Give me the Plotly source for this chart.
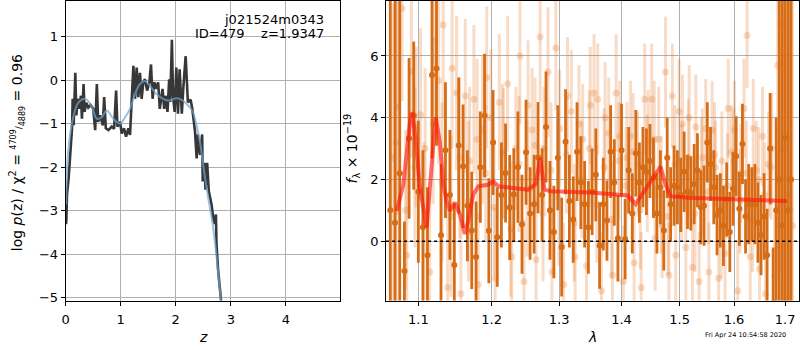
import plotly.graph_objects as go
import math

# ---------------- left panel: log p(z) ----------------
pz_z = [0.005, 0.012, 0.024, 0.054, 0.115, 0.127, 0.145, 0.175, 0.193, 0.217, 0.247, 0.277, 0.295,
        0.325, 0.343, 0.373, 0.41, 0.45, 0.5, 0.536, 0.566, 0.59, 0.627, 0.675, 0.699, 0.729,
        0.777, 0.837, 0.88, 0.916, 0.94, 0.988, 1.018, 1.06, 1.097, 1.139, 1.169, 1.2, 1.23,
        1.26, 1.29, 1.32, 1.35, 1.38, 1.41, 1.44, 1.48, 1.52, 1.55, 1.58, 1.61, 1.65, 1.68,
        1.71, 1.76, 1.79, 1.82, 1.85, 1.88, 1.9, 1.93, 1.95, 1.98, 2.01, 2.04, 2.07, 2.11,
        2.14, 2.18, 2.22, 2.27, 2.30, 2.35, 2.38, 2.40, 2.44, 2.48, 2.49, 2.52, 2.54, 2.57,
        2.60, 2.65, 2.68, 2.71, 2.73, 2.74, 2.77, 2.81, 2.84]
pz_log = [-3.31, -3.23, -2.63, -2.25, -1.11, -0.43, -1.04, 0.17, -0.81, -0.43, -0.66, -0.36, -0.89,
          -0.09, -0.73, -0.52, -0.63, -0.57, -0.66, -1.15, -0.09, -0.96, -0.81, -1.04, -0.39, -1.11,
          -1.15, -1.07, -1.12, -0.24, -1.07, -0.96, -1.23, -1.11, -1.30, -1.11, -1.26, -0.36, 0.33,
          -0.43, 0.29, -0.39, 0.17, -0.43, -0.05, 0.02, -0.24, -0.05, 0.36, -0.43, -0.05, -0.20, -0.05,
          -0.66, -0.20, -0.66, -0.36, -0.73, 0.02, -0.50, 0.93, -0.36, -0.73, 0.29, -0.77, 0.25, -0.77,
          -0.13, 0.55, -0.51, -0.45, -0.66, -1.18, -1.80, -1.25, -1.72, -1.25, -2.33, -1.90, -2.52, -1.90,
          -2.55, -2.86, -3.16, -3.31, -3.09, -3.77, -4.37, -5.05, -5.30]

prior_z = [0.01, 0.046, 0.145, 0.235, 0.356, 0.476, 0.566, 0.657, 0.747, 0.867, 0.988, 1.08, 1.17,
           1.26, 1.35, 1.44, 1.53, 1.65, 1.77, 1.89, 2.01, 2.13, 2.25, 2.31, 2.37, 2.44, 2.49,
           2.55, 2.61, 2.67, 2.73, 2.79, 2.84]
prior_log = [-2.86, -1.64, -0.81, -0.51, -0.43, -0.62, -0.89, -0.85, -0.70, -0.89, -1.00, -0.85, -0.66,
             -0.32, -0.09, -0.02, -0.13, -0.32, -0.43, -0.47, -0.42, -0.47, -0.62, -0.73, -1.00, -1.42,
             -1.87, -2.40, -2.86, -3.31, -3.92, -4.67, -5.30]

# ---------------- right panel: spectrum ----------------
dark_wave = [1.064, 1.070, 1.076, 1.082, 1.088, 1.094, 1.100, 1.106, 1.112, 1.118, 1.124, 1.130,
             1.136, 1.142, 1.148, 1.154, 1.160, 1.166, 1.172, 1.178, 1.184, 1.190, 1.196, 1.202,
             1.208, 1.214, 1.220, 1.226, 1.232, 1.238, 1.244, 1.250, 1.256, 1.262, 1.268, 1.274,
             1.280, 1.286, 1.292, 1.298, 1.304, 1.310, 1.316, 1.322, 1.328, 1.334, 1.340, 1.346,
             1.352, 1.358, 1.364, 1.370, 1.376, 1.382, 1.388, 1.394, 1.400, 1.406, 1.412, 1.418,
             1.424, 1.430, 1.436, 1.442, 1.448, 1.454, 1.460, 1.466, 1.472, 1.478, 1.484, 1.490,
             1.496, 1.502, 1.508, 1.514, 1.520, 1.526, 1.532, 1.538, 1.544, 1.550, 1.556, 1.562,
             1.568, 1.574, 1.580, 1.586, 1.592, 1.598, 1.604, 1.610, 1.616, 1.622, 1.628, 1.634,
             1.640, 1.646, 1.652, 1.658, 1.664, 1.670, 1.676, 1.682, 1.688, 1.694, 1.700, 1.706, 1.712]
dark_flux = [1.0, 0.6, 2.2, -0.96, 3.33, 4.07, 1.6, 0.45, -0.45, 5.38, 5.59, 0.19,
             2.95, 1.5, -0.77, 3.10, 2.43, 1.15, 0.35, -0.51, 2.40, 4.07, 0.34, 3.20,
             0.13, 1.50, 2.21, 1.09, 1.51, 2.40, 0.55, 2.88, 0.90, 1.20, 2.71, 1.50,
             3.70, 1.00, 0.30, 2.70, -0.19, 3.22, 1.30, 0.70, 2.90, 1.90, 1.20, 0.45,
             1.60, 2.15, -0.14, 1.20, 0.67, 2.90, 1.90, 0.10, 2.95, 0.07, 2.30, 0.90,
             2.85, 1.90, 2.40, 2.25, 2.60, 2.05, 0.90, 1.75, 0.35, 2.70, 1.20, 1.80,
             1.75, 1.50, 2.25, 1.60, 1.55, 1.85, 2.30, 1.10, 1.15, 3.20, 2.50, 1.75,
             0.85, 1.00, 0.50, 1.35, 0.30, 1.70, 2.75, 1.05, 3.15, 0.80, 1.20, 1.20,
             1.20, 0.60, 0.20, 0.80, -0.45, 3.00, -2.00, 1.0, 2.0, 0.5, 3.35, 1.0, 2.0]
dark_err = [9.0, 9.0, 8.0,
            1.6, 2.6, 2.4, 2.3, 2.5, 2.2, 2.7, 2.5, 2.3,
            2.2, 2.1, 2.0, 2.2, 2.0, 1.8, 1.9, 1.8, 1.8, 2.0, 1.7, 1.7,
            1.6, 1.7, 1.6, 1.7, 1.5, 1.8, 1.6, 1.7, 1.5, 1.6, 1.8, 1.5,
            1.8, 1.6, 1.5, 1.7, 1.6, 1.7, 1.5, 1.4, 1.6, 1.5, 1.4, 1.5,
            1.4, 1.5, 1.4, 1.5, 1.3, 1.5, 1.4, 1.4, 1.5, 1.3, 1.4, 1.3,
            1.4, 1.3, 1.3, 1.4, 1.2, 1.3, 1.3, 1.2, 1.3, 1.3, 1.2, 1.3,
            1.2, 1.2, 1.3, 1.2, 1.2, 1.3, 1.2, 1.2, 1.3, 1.3, 1.2, 1.2,
            1.3, 1.2, 1.3, 1.2, 1.3, 1.2, 1.3, 1.2, 1.3, 1.2, 1.3, 1.2,
            1.3, 1.3, 1.3, 1.4, 1.5, 1.8, 1.8, 3.0, 9.0, 9.0, 9.0, 9.0, 9.0]

light_wave = [1.067, 1.073, 1.079, 1.085, 1.091, 1.097, 1.103, 1.109, 1.115, 1.121, 1.127, 1.133,
              1.139, 1.145, 1.151, 1.157, 1.163, 1.169, 1.175, 1.181, 1.187, 1.193, 1.199, 1.205,
              1.211, 1.217, 1.223, 1.229, 1.235, 1.241, 1.247, 1.253, 1.259, 1.265, 1.271, 1.277,
              1.283, 1.289, 1.295, 1.301, 1.307, 1.313, 1.319, 1.325, 1.331, 1.337, 1.343, 1.349,
              1.355, 1.361, 1.367, 1.373, 1.379, 1.385, 1.391, 1.397, 1.403, 1.409, 1.415, 1.421,
              1.427, 1.433, 1.439, 1.445, 1.451, 1.457, 1.463, 1.469, 1.475, 1.481, 1.487, 1.493,
              1.499, 1.505, 1.511, 1.517, 1.523, 1.529, 1.535, 1.541, 1.547, 1.553, 1.559, 1.565,
              1.571, 1.577, 1.583, 1.589, 1.595, 1.601, 1.607, 1.613, 1.619, 1.625, 1.631, 1.637,
              1.643, 1.649, 1.655, 1.661, 1.667, 1.673, 1.679, 1.685, 1.691, 1.697, 1.703, 1.709, 1.715]
light_flux = [2.7, 4.34, 7.54, -0.45, 5.5, 3.7, 4.1, 3.0, -1.0, 6.5, 5.2, 7.0,
              -1.5, 5.6, 4.8, -1.7, 4.7, 2.6, 4.6, -1.4, 3.6, 5.3, 4.0, -1.2,
              4.5, 2.85, 5.1, -0.5, 3.0, 6.0, -1.3, 4.4, 3.6, -0.6, 6.61, 3.0,
              5.48, -1.0, 6.26, 3.65, -1.4, 4.71, 4.2, -0.5, 3.8, 3.3, -0.8, 4.4,
              4.8, 4.6, -1.6, 4.0, 3.5, -1.1, 4.8, 3.4, -1.3, 2.7, 3.4, -0.7,
              2.5, -1.5, 4.6, 3.2, 4.6, 0.1, 3.3, 0.5, 5.48, -1.1, 4.7, -0.45,
              4.2, 3.8, -0.2, 4.0, -0.85, 3.7, -1.3, 2.7, 3.65, -1.0, 3.6, 2.4,
              -1.2, 2.6, -0.4, 4.3, 2.9, 3.6, -1.6, 2.2, 4.3, 6.66, -0.5, 3.65,
              2.3, -0.9, 3.4, -1.7, 2.5, 3.0, -1.1, 5.7, 7.0, 3.0, 2.0, 1.0, 0.5]
light_err = [5.0, 3.5, 3.0, 3.0, 2.8, 2.6, 2.8, 2.6, 2.6, 2.8, 2.7, 3.0,
             2.5, 2.6, 2.5, 2.4, 2.5, 2.4, 2.4, 2.3, 2.4, 2.3, 2.2, 2.3,
             2.2, 2.1, 2.2, 2.1, 2.0, 2.2, 2.0, 2.1, 2.0, 2.0, 2.1, 2.0,
             2.1, 2.0, 2.0, 1.9, 2.0, 1.9, 2.0, 1.9, 1.9, 1.8, 1.9, 1.9,
             1.9, 1.8, 1.9, 1.8, 1.8, 1.8, 1.9, 1.8, 1.8, 1.8, 1.8, 1.8,
             1.7, 1.8, 1.8, 1.7, 1.8, 1.7, 1.7, 1.7, 1.8, 1.7, 1.7, 1.7,
             1.7, 1.6, 1.7, 1.7, 1.6, 1.7, 1.6, 1.6, 1.6, 1.6, 1.6, 1.5,
             1.6, 1.6, 1.6, 1.6, 1.5, 1.6, 1.6, 1.6, 1.6, 1.7, 1.6, 1.6,
             1.6, 1.6, 1.6, 1.7, 1.7, 1.8, 2.0, 4.0, 8.0, 8.0, 9.0, 9.0, 9.0]

light2_wave = [1.0715, 1.0835, 1.0955, 1.1075, 1.1195, 1.1315, 1.1435, 1.1555, 1.1675, 1.1795,
               1.1915, 1.2035, 1.2155, 1.2275, 1.2395, 1.2515, 1.2635, 1.2755, 1.2875, 1.2995,
               1.3115, 1.3235, 1.3355, 1.3475, 1.3595, 1.3715, 1.3835, 1.3955, 1.4075, 1.4195,
               1.4315, 1.4435, 1.4555, 1.4675, 1.4795, 1.4915, 1.5035, 1.5155, 1.5275, 1.5395,
               1.5515, 1.5635, 1.5755, 1.5875, 1.5995, 1.6115, 1.6235, 1.6355, 1.6475, 1.6595,
               1.6715, 1.6835, 1.6955, 1.7075]
light2_flux = [3.2, 1.0, 2.4, 0.6, 3.8, 1.9, 0.8, 2.7, 1.3, 3.3, 2.2, 1.1, 2.9, 0.4, 2.5, 1.7,
               3.1, 0.9, 2.3, 1.4, 2.8, 0.6, 2.0, 3.0, 1.2, 2.4, 0.7, 2.6, 1.8, 2.9, 1.0, 2.2,
               3.3, 1.5, 0.8, 2.5, 1.9, 2.7, 0.9, 2.1, 1.6, 2.8, 0.5, 1.8, 2.6, 1.3, 2.2, 0.7,
               2.0, 1.5, 2.4, 1.0, 3.0, 1.5]
light2_err = [6.0, 2.6, 2.6, 2.6, 2.6, 2.6, 2.6, 2.6, 2.6, 2.6, 2.2, 2.2, 2.2, 2.2, 2.2, 2.2,
              2.2, 2.2, 2.2, 2.2, 1.9, 1.9, 1.9, 1.9, 1.9, 1.9, 1.9, 1.9, 1.9, 1.9, 1.9, 1.9,
              1.9, 1.9, 1.9, 1.9, 1.9, 1.9, 1.9, 1.9, 1.7, 1.7, 1.7, 1.7, 1.7, 1.7, 1.7, 1.7,
              1.7, 1.7, 1.7, 2.0, 8.0, 8.0]

model_wave = [1.0721, 1.0806, 1.0891, 1.0922, 1.0965, 1.1021, 1.1109, 1.1175, 1.1228, 1.1285,
              1.1331, 1.1375, 1.1419, 1.1487, 1.1556, 1.1624, 1.1671, 1.1741, 1.1810, 1.1951,
              1.2022, 1.2093, 1.2529, 1.2645, 1.2712, 1.2777, 1.2879, 1.3500, 1.4000, 1.4100,
              1.4236, 1.4349, 1.4520, 1.4663, 1.4751, 1.4838, 1.5136, 1.6000, 1.7035]
model_flux = [0.98, 1.83, 3.86, 4.18, 3.33, 1.73, 0.45, 2.26, 4.02, 3.22,
              1.83, 1.30, 0.98, 1.25, 0.87, 0.23, 0.66, 1.51, 1.78, 1.83,
              1.94, 1.78, 1.67, 1.85, 2.69, 1.67, 1.62, 1.58, 1.52, 1.48,
              1.20, 1.52, 1.99, 2.42, 1.83, 1.46, 1.41, 1.35, 1.30]

x_ticks_lam = [1.1, 1.2, 1.3, 1.4, 1.5, 1.6, 1.7]
y_ticks_flux = [0, 2, 4, 6]
z_ticks = [0, 1, 2, 3, 4]
logp_ticks = [-5, -4, -3, -2, -1, 0, 1]

DARK = "rgb(214,108,22)"
LIGHT = "rgba(228,120,40,0.26)"
FONT = "DejaVu Sans"

fig = go.Figure()

# left panel
fig.add_trace(go.Scatter(x=pz_z, y=pz_log, mode="lines", xaxis="x", yaxis="y",
                         line=dict(color="rgb(55,55,55)", width=2.6), showlegend=False))
fig.add_trace(go.Scatter(x=prior_z, y=prior_log, mode="lines", xaxis="x", yaxis="y",
                         line=dict(color="rgba(110,165,210,0.7)", width=2, shape="spline"),
                         showlegend=False))

# right panel
for wv, fl, er in [(light_wave, light_flux, light_err), (light2_wave, light2_flux, light2_err)]:
    fig.add_trace(go.Scatter(x=wv, y=fl, mode="markers", xaxis="x2", yaxis="y2",
                             marker=dict(color=LIGHT, size=7),
                             error_y=dict(type="data", array=er, visible=True, thickness=3,
                                          width=0, color=LIGHT),
                             showlegend=False))
fig.add_trace(go.Scatter(x=dark_wave, y=dark_flux, mode="markers", xaxis="x2", yaxis="y2",
                         marker=dict(color=DARK, size=6),
                         error_y=dict(type="data", array=dark_err, visible=True, thickness=2.8,
                                      width=0, color=DARK),
                         showlegend=False))
fig.add_trace(go.Scatter(x=model_wave, y=model_flux, mode="lines", xaxis="x2", yaxis="y2",
                         line=dict(color="rgba(255,20,10,0.62)", width=4),
                         showlegend=False))
fig.add_shape(type="line", xref="x2 domain", yref="y2", x0=0, x1=1, y0=0, y1=0,
              line=dict(color="black", width=1.6, dash="dot"))

axis_common = dict(showline=True, mirror=True, linecolor="black", linewidth=1,
                   ticks="outside", ticklen=4, tickcolor="black", showgrid=True,
                   gridcolor="#b0b0b0", gridwidth=1, zeroline=False,
                   tickfont=dict(family=FONT, size=13, color="black"))

fig.update_layout(
    width=800, height=350, autosize=False,
    margin=dict(l=0, r=0, t=0, b=0),
    paper_bgcolor="white", plot_bgcolor="white",
    font=dict(family=FONT, color="black"),
    xaxis=dict(domain=[62/800, 338/800], range=[0, 4.99], tickvals=z_ticks,
               anchor="y", ticklabelstandoff=3, **axis_common),
    yaxis=dict(domain=[1-304/350, 1-1/350], range=[-5.07, 1.82], tickvals=logp_ticks,
               anchor="x", **axis_common),
    xaxis2=dict(domain=[384/800, 799/800], type="log",
                range=[math.log10(1.0587), math.log10(1.7282)],
                tickvals=x_ticks_lam, ticktext=[f"{v:.1f}" for v in x_ticks_lam],
                anchor="y2", ticklabelstandoff=3, **axis_common),
    yaxis2=dict(domain=[1-304/350, 1-1/350], range=[-1.92, 7.78], tickvals=y_ticks_flux,
                anchor="x2", **axis_common),
)

ann = [
    dict(text="j021524m0343", x=324/800, y=1-20/350, xanchor="right", yanchor="middle",
         font=dict(size=13)),
    dict(text="ID=479    z=1.9347", x=324/800, y=1-34/350, xanchor="right", yanchor="middle",
         font=dict(size=13)),
    dict(text="<i>z</i>", x=200/800, y=1-341/350, xanchor="center", yanchor="middle",
         font=dict(size=14)),
    dict(text="<i>λ</i>", x=591/800, y=1-341/350, xanchor="center", yanchor="middle",
         font=dict(size=14)),
    dict(text="log <i>p</i>(z) / χ<sup>2</sup> = "
              "<sup><span style='font-size:8px'>4709</span></sup>"
              "<span style='font-size:9px'>/</span>"
              "<sub><span style='font-size:8px'>4889</span></sub> = 0.96",
         x=13/800, y=1-154/350, xanchor="center", yanchor="middle", textangle=-90,
         font=dict(size=14)),
    dict(text="<i>f</i><sub>λ</sub> × 10<sup>−19</sup>", x=350/800, y=1-150/350,
         xanchor="center", yanchor="middle", textangle=-90, font=dict(size=14)),
    dict(text="Fri Apr 24 10:54:58 2020", x=745/800, y=1-339/350, xanchor="center",
         yanchor="middle", font=dict(size=6.5)),
]
for a in ann:
    a.update(xref="paper", yref="paper", showarrow=False)
    fig.add_annotation(**a)

fig.write_html("out.html", config={"displayModeBar": False},
               post_script="document.body.style.margin='0';document.body.style.padding='0';"
                           "document.body.style.overflow='hidden';")
